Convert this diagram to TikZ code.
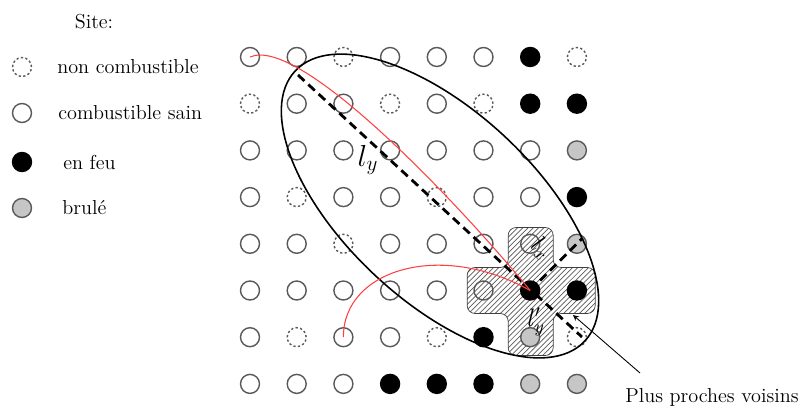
\documentclass[tikz,border=0pt]{standalone}
\usepackage{amsmath}
\usetikzlibrary{arrows,patterns,calc,backgrounds}

\tikzset{
  site/.style={circle, inner sep=0pt, minimum size=0.38cm, line width=0.8pt},
  sain/.style={site, draw=gray!70!black},
  noncomb/.style={site, draw=gray!70!black, dash pattern=on 1.3pt off 1.3pt},
  feu/.style={site, draw=black, fill=black},
  brule/.style={site, draw=gray!70!black, fill=gray!45},
  axe/.style={line width=1.6pt, dash pattern=on 5pt off 3pt},
  chemin/.style={red!75!white, line width=0.6pt},
}

\begin{document}
\begin{tikzpicture}[x=0.02cm, y=-0.02cm]
  \useasboundingbox (0,0) rectangle (805,408);
  \fontsize{11.5}{14}\selectfont
  % Legend
  \node (site) at (94,22) {Site:};
  \foreach \etat/\texte/\y/\xt in {noncomb/non combustible/67/57,
      sain/combustible sain/113/58, feu/en feu/162/63, brule/brul\'e/208/62}
  {
    \node[\etat] (leg-\etat) at (22,\y) {};
    \node[anchor=west, inner sep=0pt] (txt-\etat) at (\xt,\y) {\texte};
  }
  % Grid of sites
  \foreach \ligne [count=\r] in {
      {sain,sain,noncomb,sain,sain,sain,feu,noncomb},
      {noncomb,sain,sain,noncomb,sain,noncomb,feu,feu},
      {sain,sain,sain,sain,sain,sain,sain,brule},
      {sain,noncomb,sain,sain,noncomb,sain,sain,feu},
      {sain,sain,noncomb,sain,sain,sain,sain,brule},
      {sain,sain,sain,sain,sain,sain,feu,feu},
      {sain,noncomb,sain,sain,noncomb,feu,brule,noncomb},
      {sain,sain,sain,feu,feu,feu,brule,brule}}
    \foreach \etat [count=\c] in \ligne
      \node[\etat] (s-\r-\c) at ({250+46.7*(\c-1)},{57+46.7*(\r-1)}) {};
  % Nearest neighbours
  \begin{scope}[on background layer]
    \draw[gray!50!black, pattern=north east lines, pattern color=gray!70!black,
      rounded corners=4.5pt]
      ($(s-6-7)+(-22,-63)$) -- ++(45,0) -- ++(0,40) -- ++(42,0) -- ++(0,46)
      -- ++(-42,0) -- ++(0,42) -- ++(-45,0) -- ++(0,-42) -- ++(-41,0)
      -- ++(0,-46) -- ++(41,0) -- cycle;
  \end{scope}
  % Ellipse and axes
  \draw[line width=0.9pt, rotate around={-43:(440,206)}]
    (440,206) ellipse [x radius=198, y radius=95];
  \coordinate (ly-a) at (298,75);
  \coordinate (ly-b) at (582,337);
  \draw[axe] (ly-a) -- (ly-b);
  \draw[axe] (s-6-7.center) -- ($(s-6-7)!1.12!(s-5-8)$);
  \node (ly) at (368,160) {\fontsize{17}{20}\selectfont$l_y$};
  \node[rotate=-40, inner sep=0pt] (lx) at (541,248) {\fontsize{14}{16}\selectfont$l_x$};
  \node[inner sep=0pt] (lyp) at (536,322) {\fontsize{14}{16}\selectfont$l'_y$};
  % Propagation paths
  \draw[chemin] (s-1-1.center) .. controls (300,35) and (460,205) .. (s-6-7.center);
  \draw[chemin] (s-7-3.center) .. controls (343,270) and (440,240) .. (s-6-7.center);
  % Label
  \node (voisins) at (712,397) {Plus proches voisins};
  \coordinate (tail) at (640,373);
  \coordinate (tip) at (573,315);
  \draw[-stealth, line width=0.5pt] (tail) -- (tip);
\end{tikzpicture}
\end{document}
